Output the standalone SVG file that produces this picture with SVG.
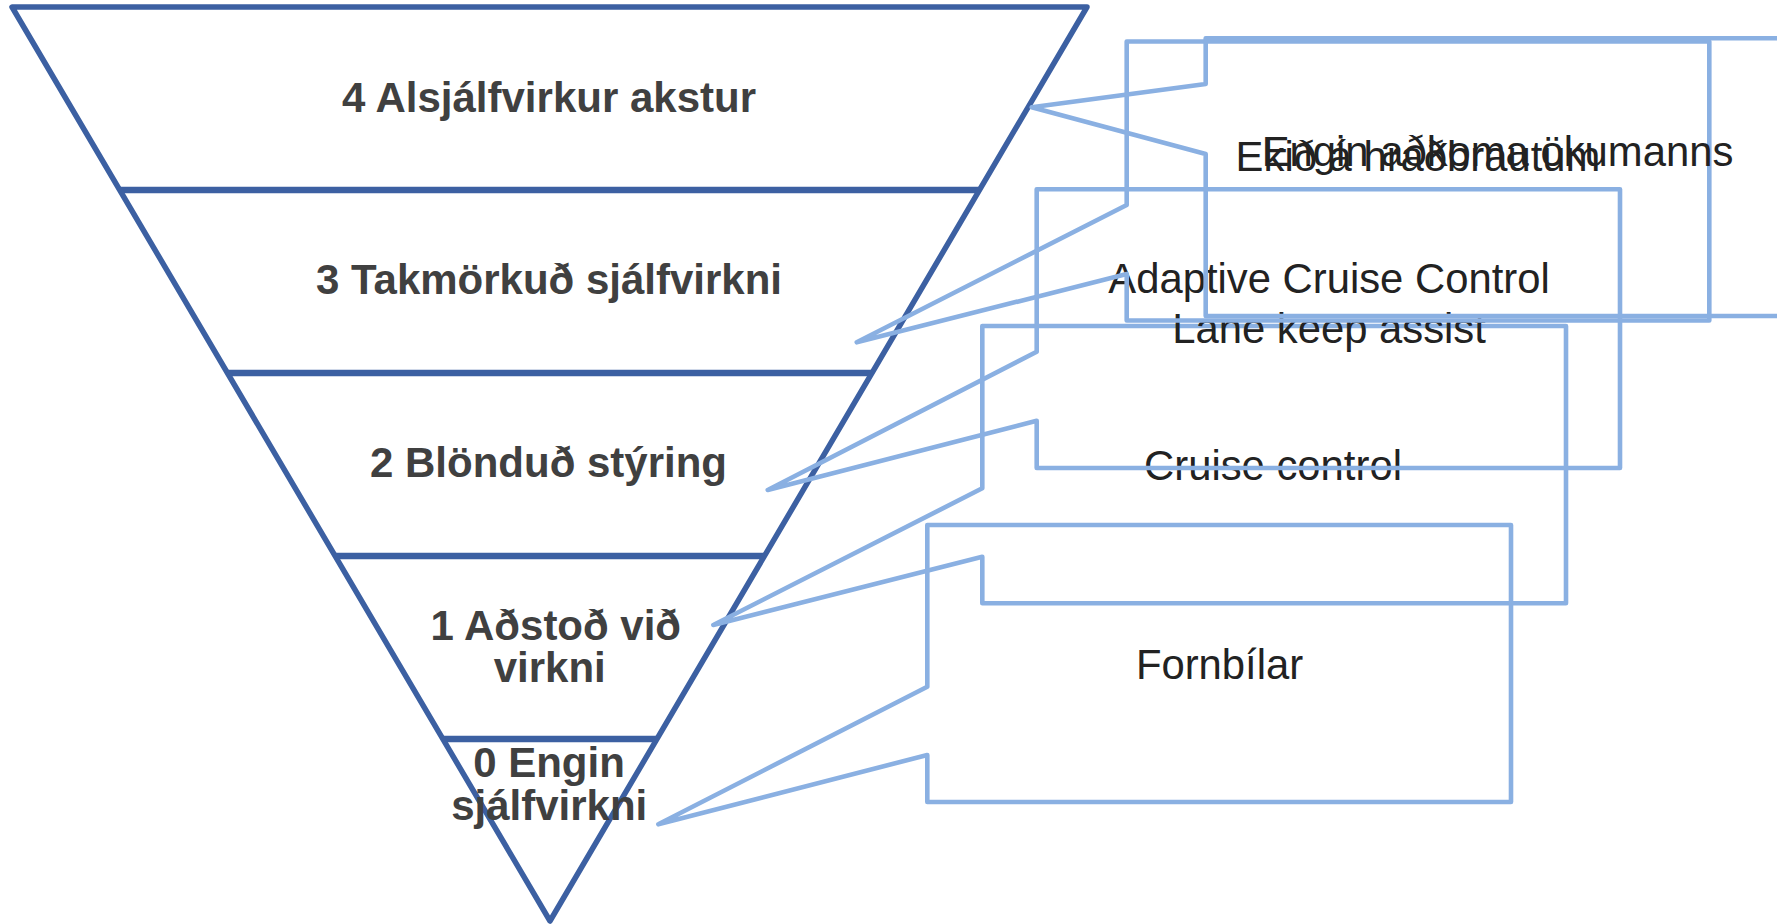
<svg xmlns="http://www.w3.org/2000/svg" width="1777" height="924" viewBox="0 0 1777 924">
<style>
.funnel{fill:none;stroke:#3C60A2;stroke-width:5.5;stroke-linejoin:round}
.band{stroke:#3C60A2;stroke-width:6.5}
.lvl{font-family:"Liberation Sans",Arial,sans-serif;font-weight:bold;font-size:42px;fill:#404040;text-anchor:middle}
.call{fill:none;stroke:#8AB0E2;stroke-width:4.6;stroke-linejoin:round}
.ct{font-family:"Liberation Sans",Arial,sans-serif;font-size:41.8px;fill:#222222;text-anchor:middle}
</style>
<rect x="0" y="0" width="1777" height="924" fill="#ffffff"/>
<g id="funnel">
<polygon class="funnel" points="12,7 1087,7 550,921"/>
<line class="band" x1="119" y1="190" x2="980" y2="190"/>
<line class="band" x1="227" y1="373" x2="872" y2="373"/>
<line class="band" x1="334" y1="556" x2="765" y2="556"/>
<line class="band" x1="442" y1="739" x2="658" y2="739"/>
</g>
<g id="level4"><text class="lvl" x="549" y="111.7">4 Alsjálfvirkur akstur</text></g>
<g id="level3"><text class="lvl" x="549" y="294">3 Takmörkuð sjálfvirkni</text></g>
<g id="level2"><text class="lvl" x="548.5" y="477">2 Blönduð stýring</text></g>
<g id="level1"><text class="lvl" x="555.8" y="640">1 Aðstoð við</text><text class="lvl" x="549.7" y="681.7">virkni</text></g>
<g id="level0"><text class="lvl" x="549" y="776.7">0 Engin</text><text class="lvl" x="549.2" y="820">sjálfvirkni</text></g>
<g id="connectors">
<g id="callout0"><path class="call" d="M927.3 525 H1511 V802 H927.3 V755 L658.3 824.3 L927.3 686.7 Z"/><text class="ct" x="1219.5" y="679.3">Fornbílar</text></g>
<g id="callout1"><path class="call" d="M982.3 326 H1566 V603.3 H982.3 V556.7 L713.3 625 L982.3 488.3 Z"/><text class="ct" x="1273" y="480">Cruise control</text></g>
<g id="callout2"><path class="call" d="M1036.7 189.3 H1620 V468 H1036.7 V420.7 L767.7 490 L1036.7 351.7 Z"/><text class="ct" x="1329" y="293.3">Adaptive Cruise Control</text><text class="ct" x="1329" y="343.3">Lane keep assist</text></g>
<g id="callout3"><path class="call" d="M1126.7 41.5 H1709.3 V320.5 H1126.7 V274 L856.7 342.3 L1126.7 205 Z"/><text class="ct" x="1418" y="170.7">Ekið á hraðbrautum</text></g>
<g id="callout4"><path class="call" d="M1205.7 38.3 H1789.4 V316 H1205.7 V154 L1031.7 107.3 L1205.7 84 Z"/><text class="ct" x="1497.5" y="165.7">Engin aðkoma ökumanns</text></g>
</g>
</svg>
